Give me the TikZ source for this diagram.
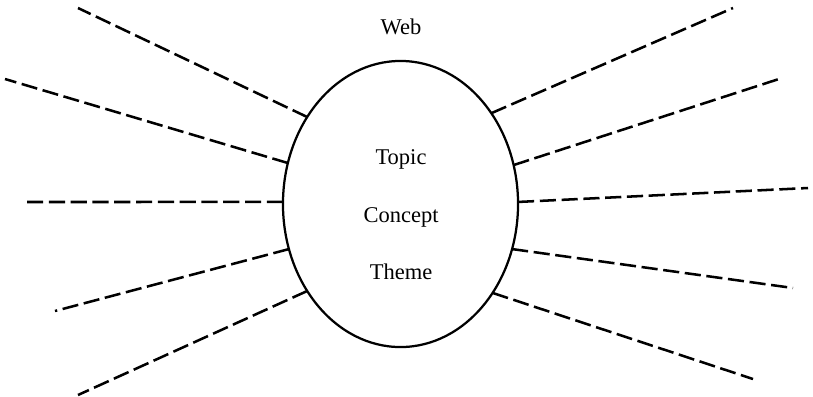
\documentclass[tikz,border=0pt]{standalone}
\usepackage{fontspec}
\setmainfont{Liberation Serif}
\usetikzlibrary{shapes.geometric}
\tikzset{hub/.style={draw,ellipse,line width=1.6pt,minimum width=5.875cm,minimum height=7.15cm,inner sep=0pt,outer sep=0pt},
         spoke/.style={dash pattern=on 11.5pt off 4pt,line width=1.8pt},
         word/.style={anchor=base,font=\fontsize{16}{19}\selectfont}}

\begin{document}
\begin{tikzpicture}[x=0.025cm,y=-0.025cm]
        \useasboundingbox (0,0) rectangle (813,396);
        \node[hub](web)at(400.5,204){};
        \node[word](title)at(401,34){Web};
        \node[word](topic)at(401,164){Topic};
        \node[word](concept)at(401,222){Concept};
        \node[word](theme)at(401,279){Theme};
        \coordinate(l1)at(78,8);
        \coordinate(l2)at(5,79);
        \coordinate(l3)at(25,202);
        \coordinate(l4)at(55,311);
        \coordinate(l5)at(78,395);
        \coordinate(r1)at(733,8);
        \coordinate(r2)at(782,78);
        \coordinate(r3)at(808,188);
        \coordinate(r4)at(793,288);
        \coordinate(r5)at(753,379);
        \draw[spoke](web.137.3)--(l1);
        \draw[spoke](web.160.2)--(l2);
        \draw[spoke](web.179)--(l3);
        \draw[spoke](web.202.4)--(l4);
        \draw[spoke](web.223.6)--(l5);
        \draw[spoke](web.45.2)--(r1);
        \draw[spoke](web.19.7)--(r2);
        \draw[spoke](web.1.5)--(r3);
        \draw[spoke](web.-22.2)--(r4);
        \draw[spoke](web.-44.8)--(r5);
    \end{tikzpicture}
\end{document}
